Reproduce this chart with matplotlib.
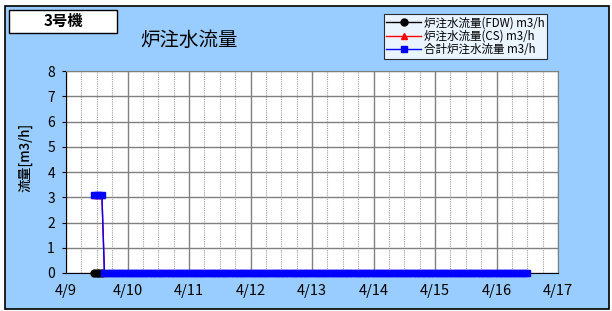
import matplotlib
matplotlib.use("Agg")
import matplotlib.pyplot as plt
import matplotlib.dates as mdates
from matplotlib.patches import Rectangle
import pandas as pd

plt.rcParams["font.family"] = ["Noto Sans CJK JP", "DejaVu Sans"]

# --------- data ------------------------------------
fdw_times = pd.date_range("2011-04-09 11:00", "2011-04-09 14:00", freq="h")
fdw_values = [0.0, 0.0, 0.0, 0.0]

cs_times = pd.date_range("2011-04-09 11:00", "2011-04-09 15:00", freq="h")
cs_values = [3.1, 3.1, 3.1, 3.1, 0.0]

total_times = pd.date_range("2011-04-09 11:00", "2011-04-16 12:00", freq="h")
total_values = [3.1] * 4 + [0.0] * (len(total_times) - 4)

title = "炉注水流量"
unit_label = "3号機"
y_label = "流量[m3/h]"
legend_labels = ["炉注水流量(FDW) m3/h", "炉注水流量(CS) m3/h", "合計炉注水流量 m3/h"]

W, H = 612, 311
fig = plt.figure(figsize=(W / 100, H / 100), dpi=100)
fig.patch.set_facecolor("white")

# blue panel with black border
fig.patches.append(Rectangle((5 / W, 2 / H), 604 / W, 303 / H, transform=fig.transFigure,
                             facecolor="#99CCFF", edgecolor="black", linewidth=1.2, zorder=-2))
# unit box
fig.patches.append(Rectangle((9 / W, 1 - 33 / H), 108 / W, 23 / H, transform=fig.transFigure,
                             facecolor="white", edgecolor="black", linewidth=1, zorder=-1))
fig.text(63 / W, 1 - 21 / H, unit_label, ha="center", va="center", fontsize=11, fontweight="bold")
fig.text(189 / W, 1 - 40 / H, title, ha="center", va="center", fontsize=14)

ax = fig.add_axes([66 / W, 1 - 273 / H, 492 / W, 202 / H])
ax.set_zorder(1)
ax.set_facecolor("white")

ax.plot(fdw_times, fdw_values, color="black", marker="o", markersize=5, linewidth=1,
        zorder=3, clip_on=False)
ax.plot(cs_times, cs_values, color="red", marker="^", markersize=5, linewidth=1,
        zorder=3, clip_on=False)
ax.plot(total_times, total_values, color="blue", marker="s", markersize=5, linewidth=1,
        zorder=4, clip_on=False)

ax.set_xlim(pd.Timestamp("2011-04-09"), pd.Timestamp("2011-04-17"))
ax.set_ylim(0, 8)
ax.set_yticks(range(0, 9))
ax.xaxis.set_major_locator(mdates.DayLocator())
ax.xaxis.set_minor_locator(mdates.HourLocator(byhour=[6, 12, 18]))
ax.xaxis.set_major_formatter(mdates.DateFormatter("%-m/%-d"))

ax.grid(True, which="major", color="#808080", linewidth=1)
ax.grid(True, which="minor", axis="x", color="#A0A0A0", linewidth=0.8, linestyle=(0, (1, 1)))
ax.set_axisbelow(True)

ax.tick_params(axis="y", direction="out", length=3, labelsize=10, pad=5)
ax.tick_params(axis="x", which="major", length=0, labelsize=10.5, pad=8)
ax.tick_params(axis="x", which="minor", length=0)
for s in ["left", "bottom"]:
    ax.spines[s].set_color("black")
for s in ["top", "right"]:
    ax.spines[s].set_color("#808080")

ax.set_ylabel(y_label, fontsize=9.5, fontweight="medium")
ax.yaxis.set_label_coords(-0.069, 0.574)

handles = ax.get_lines()
leg = fig.legend(handles, legend_labels, loc="upper left", bbox_to_anchor=(384 / W, 1 - 14 / H),
                 fontsize=8.3, frameon=True, fancybox=False, edgecolor="black",
                 borderpad=0.2, labelspacing=0.05, handlelength=3.0, handletextpad=0.3,
                 borderaxespad=0)
leg.get_frame().set_linewidth(0.8)

fig.savefig("out.png", dpi=100)
